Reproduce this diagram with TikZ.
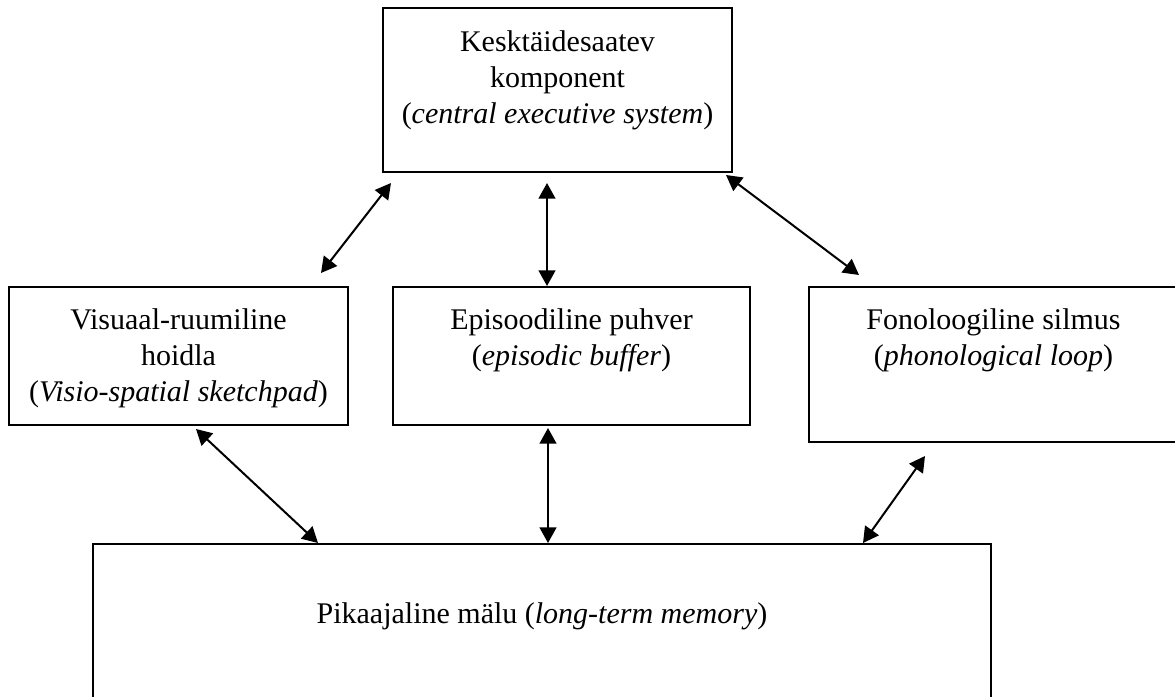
\documentclass[tikz,border=0pt]{standalone}
\usepackage{fontspec}
\setmainfont{Liberation Serif}
\usetikzlibrary{arrows.meta,positioning}

\begin{document}
\begin{tikzpicture}[x=0.45pt, y=-0.45pt, every node/.style={font=\fontsize{13.5}{16.2}\selectfont},
  box/.style={draw, line width=0.9pt, inner sep=0pt},
  lbl/.style={align=center, inner sep=0pt},
  link/.style={{Triangle[length=7pt,width=7.5pt]}-{Triangle[length=7pt,width=7.5pt]}, line width=0.9pt}]
\useasboundingbox (0,0) rectangle (1175,696);
% boxes
\node[box, minimum width=157.05pt, minimum height=73.8pt] (ces) at (557.5,90) {};
\node[box, minimum width=152.55pt, minimum height=62.1pt] (vss) at (178.5,356) {};
\node[box, minimum width=160.65pt, minimum height=62.1pt] (eb) at (571.5,356) {};
\node[box, minimum width=166.05pt, minimum height=69.75pt] (pl) at (993.5,364.5) {};
\node[box, minimum width=404.1pt, minimum height=79.2pt] (ltm) at (542,632) {};
% texts
\node[lbl, below=10.5pt of ces.north] (cesT) {Kesktäidesaatev\\komponent\\(\textit{central executive system})};
\node[lbl, below=10pt of vss.north] (vssT) {Visuaal-ruumiline\\hoidla\\(\textit{Visio-spatial sketchpad})};
\node[lbl, below=9.8pt of eb.north] (ebT) {Episoodiline puhver\\(\textit{episodic buffer})};
\node[lbl, below=9.8pt of pl.north] (plT) {Fonoloogiline silmus\\(\textit{phonological loop})};
\node[lbl, below=26.6pt of ltm.north] (ltmT) {Pikaajaline mälu (\textit{long-term memory})};
% links
\draw[link] ([shift={(9,10)}]ces.south west) -- ([shift={(-28,-13)}]vss.north east);
\draw[link] ([shift={(-10.5,10)}]ces.south) -- ([shift={(-24.5,0)}]eb.north);
\draw[link] ([shift={(-7,2)}]ces.south east) -- ([shift={(51,-11)}]pl.north west);
\draw[link] ([shift={(17.5,3)}]vss.south) -- ([shift={(-224,0)}]ltm.north);
\draw[link] ([shift={(-23.5,2)}]eb.south) -- ([shift={(6,0)}]ltm.north);
\draw[link] ([shift={(-68.5,13)}]pl.south) -- ([shift={(-129,0)}]ltm.north east);
\end{tikzpicture}
\end{document}
